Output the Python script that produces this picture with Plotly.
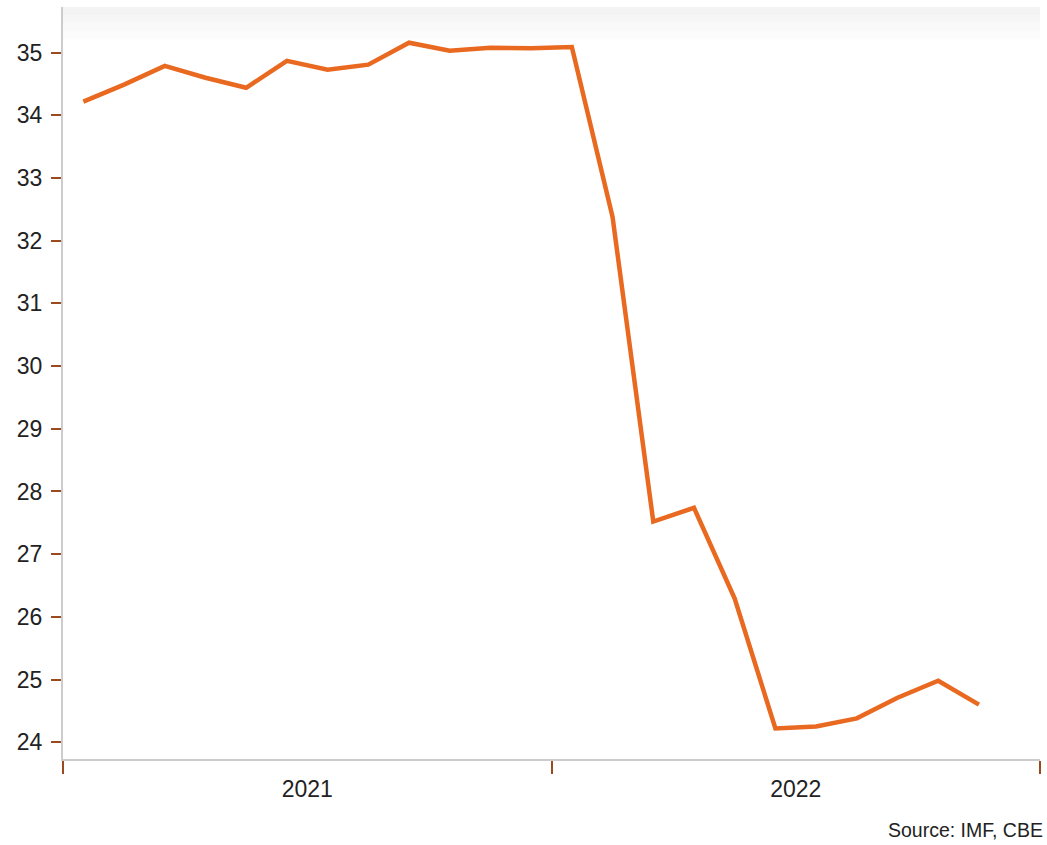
import plotly.graph_objects as go

months = ["Jan 2021", "Feb 2021", "Mar 2021", "Apr 2021", "May 2021", "Jun 2021",
          "Jul 2021", "Aug 2021", "Sep 2021", "Oct 2021", "Nov 2021", "Dec 2021",
          "Jan 2022", "Feb 2022", "Mar 2022", "Apr 2022", "May 2022", "Jun 2022",
          "Jul 2022", "Aug 2022", "Sep 2022", "Oct 2022", "Nov 2022"]
values = [34.22, 34.49, 34.79, 34.60, 34.44, 34.87, 34.73, 34.81, 35.16, 35.03, 35.08, 35.07,
          35.09, 32.38, 27.52, 27.74, 26.29, 24.22, 24.25, 24.38, 24.71, 24.98, 24.60]
year_labels = ["2021", "2022"]
y_ticks = list(range(24, 36))

x_idx = list(range(len(months)))

fig = go.Figure()
fig.add_trace(go.Scatter(
    x=x_idx, y=values, mode="lines", customdata=months,
    line=dict(color="#E8691F", width=4.5),
    hovertemplate="%{customdata}: %{y}<extra></extra>",
))

# light header band
for i, c in enumerate(["#f3f3f3", "#f6f6f6", "#f9f9f9", "#fcfcfc"]):
    fig.add_shape(type="rect", xref="paper", yref="paper",
                  x0=0, x1=1, y0=1 - (i + 1) * 0.0105, y1=1 - i * 0.0105,
                  fillcolor=c, line_width=0, layer="below")

fig.update_layout(
    width=1047, height=845,
    margin=dict(l=63, r=7, t=7, b=86),
    paper_bgcolor="white", plot_bgcolor="white",
    showlegend=False,
    font=dict(family="Liberation Sans, Arial, sans-serif", color="#222222"),
    xaxis=dict(
        range=[-0.5, 23.5],
        tickmode="array", tickvals=[5.5, 17.5], ticktext=year_labels,
        ticks="", showgrid=False, zeroline=False,
        showline=True, linecolor="#cccccc", linewidth=2,
        tickfont=dict(size=23, color="#222222"),
        ticklabelstandoff=8,
        minor=dict(tickmode="array", tickvals=[-0.5, 11.5, 23.5], ticks="outside",
                   ticklen=13, tickwidth=2, tickcolor="#9a4a1c", showgrid=False),
    ),
    yaxis=dict(
        range=[23.732, 35.729],
        tickmode="array", tickvals=y_ticks,
        ticks="outside", ticklen=10, tickwidth=2, tickcolor="#9a4a1c",
        ticklabelstandoff=4,
        showgrid=False, zeroline=False,
        showline=True, linecolor="#cccccc", linewidth=2,
        tickfont=dict(size=23, color="#222222"),
    ),
    annotations=[dict(
        text="Source: IMF, CBE", xref="paper", yref="paper",
        x=1.005, y=-0.095, xanchor="right", yanchor="middle",
        showarrow=False, font=dict(size=19.5, color="#222222"),
    )],
)

fig.write_html("out.html")
